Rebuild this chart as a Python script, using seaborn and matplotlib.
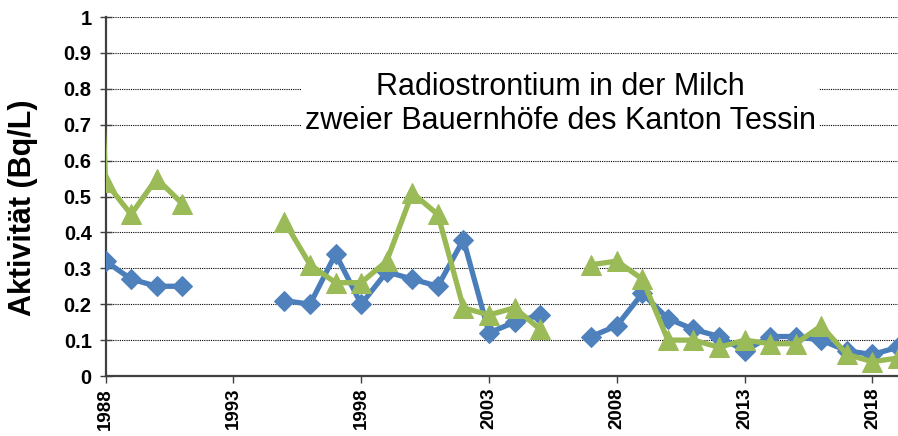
import numpy as np
import pandas as pd
import seaborn as sns
import matplotlib.pyplot as plt

# Jahre und Messwerte (Bq/L), NaN = keine Messung
jahre = list(range(1987, 2020))
hof_blau = [np.nan,
            0.32, 0.27, 0.25, 0.25, np.nan, np.nan, np.nan,
            0.21, 0.20, 0.34, 0.20, 0.29, 0.27, 0.25, 0.38,
            0.12, 0.15, 0.17, np.nan, 0.11, 0.14, 0.23, 0.16,
            0.13, 0.11, 0.07, 0.11, 0.11, 0.10, 0.07, 0.06, 0.08]
hof_gruen = [2.4,
             0.54, 0.45, 0.55, 0.48, np.nan, np.nan, np.nan,
             0.43, 0.31, 0.26, 0.26, 0.32, 0.51, 0.45, 0.19,
             0.17, 0.19, 0.13, np.nan, 0.31, 0.32, 0.27, 0.10,
             0.10, 0.08, 0.10, 0.09, 0.09, 0.14, 0.06, 0.04, 0.05]

x_ticks = [1988, 1993, 1998, 2003, 2008, 2013, 2018]
y_ticks = [0, 0.1, 0.2, 0.3, 0.4, 0.5, 0.6, 0.7, 0.8, 0.9, 1]
y_labels = ["0", "0.1", "0.2", "0.3", "0.4", "0.5", "0.6", "0.7", "0.8", "0.9", "1"]

titel = "Radiostrontium in der Milch\nzweier Bauernhöfe des Kanton Tessin"


def segmente(werte):
    # Lücken (NaN) trennen die Linie in einzelne Stücke
    df = pd.DataFrame({"jahr": jahre, "wert": werte})
    df["segment"] = df["wert"].isna().cumsum()
    return df.dropna()


df_blau = segmente(hof_blau)
df_gruen = segmente(hof_gruen)

sns.set_style("white")
plt.rcParams["font.family"] = ["Liberation Sans", "DejaVu Sans"]
plt.rcParams["text.color"] = "black"
plt.rcParams["axes.labelcolor"] = "black"
plt.rcParams["xtick.color"] = "black"
plt.rcParams["ytick.color"] = "black"

fig = plt.figure(figsize=(8.98, 4.36), dpi=100)
ax = fig.add_axes([0.1175, 0.1376, 0.8825, 0.8234])

sns.lineplot(data=df_blau, x="jahr", y="wert", units="segment", estimator=None,
             color="#4A7EBB", linewidth=3.8, marker="D", markersize=10,
             markerfacecolor="#4F81BD", markeredgecolor="#4F81BD", ax=ax, zorder=3)
sns.lineplot(data=df_gruen, x="jahr", y="wert", units="segment", estimator=None,
             color="#98B954", linewidth=3.8, marker="^", markersize=14,
             markerfacecolor="#9BBB59", markeredgecolor="#9BBB59", ax=ax, zorder=4)

ax.set_xlim(1988, 2019)
ax.set_ylim(0, 1)
ax.set_xticks(x_ticks)
ax.set_xticklabels([str(j) for j in x_ticks], rotation=90, fontsize=13.5, fontweight="bold")
ax.set_yticks(y_ticks)
ax.set_yticklabels(y_labels, fontsize=14.5, fontweight="bold")

ax.yaxis.grid(True, color="black", linestyle=(0, (1, 1)), linewidth=0.8)
ax.xaxis.grid(False)
ax.set_axisbelow(True)

for s in ["top", "right"]:
    ax.spines[s].set_visible(False)
for s in ["left", "bottom"]:
    ax.spines[s].set_color("#404040")
    ax.spines[s].set_linewidth(1.6)

ax.tick_params(axis="y", direction="inout", length=8, width=1, color="#404040", pad=6, left=True)
ax.tick_params(axis="x", direction="out", length=5, width=1, color="#404040", pad=3.5, bottom=True)

ax.set_xlabel("")
ax.set_ylabel("Aktivität (Bq/L)", fontsize=22, fontweight="bold")
ax.yaxis.set_label_coords(-0.085, 0.47)

ax.text(0.574, 0.758, titel, transform=ax.transAxes, ha="center", va="center",
        fontsize=22, linespacing=1.15, zorder=5,
        bbox=dict(facecolor="white", edgecolor="none", pad=2))

plt.savefig("out.png", dpi=100)
